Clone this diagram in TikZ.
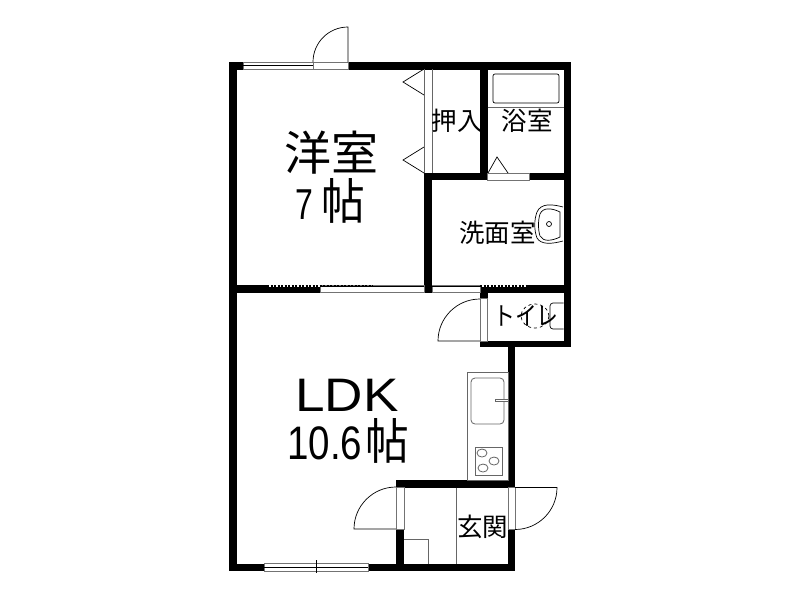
\documentclass[tikz,border=0pt]{standalone}
\usepackage{fontspec}
\setmainfont{Liberation Sans}
\newfontfamily\cjk{Noto Sans CJK JP}
\tikzset{
  wall/.style={fill=black},
  opening/.style={fill=white, draw=black!55, line width=.7pt},
  thinline/.style={draw=black, line width=.7pt},
  fixture/.style={draw=black!60, line width=.8pt},
  bigroom/.style={font=\fontsize{47}{50}\selectfont\cjk, inner sep=0pt},
  roomname/.style={font=\fontsize{25.5}{26}\selectfont\cjk, inner sep=0pt},
}
\newcommand{\jo}{\scalebox{.93}[1.04]{帖}}
\begin{document}
\begin{tikzpicture}[x=1pt, y=-1pt]
  \useasboundingbox (0,0) rectangle (800,600);
  \fill[white] (0,0) rectangle (800,600);
  \foreach \xa/\ya/\xb/\yb in {
      229/62/571/69.5,229/62/236.5/571,229/563.5/515/571,
      563.5/62/571/347,480/62/487.5/180,424/173/571/180,
      424/173/432/293,229/285/571/293,480/285/487.5/347,
      480/341/571/347,508/341/515/571,396/480/515/487.5,
      396/480/404/571} {
    \fill[wall] (\xa,\ya) rectangle (\xb,\yb); }
  \foreach \xa/\ya/\xb/\yb in {
      243/62/313/69.5,313/62/348/69.5,487.5/173.5/529/180,
      320/285.5/424/292.5,432/285.5/480/292.5,480/298/487.5/341,
      396/487.5/404/529,508/487.5/515/529,264/563.5/368/571} {
    \filldraw[opening] (\xa,\ya) rectangle (\xb,\yb); }
  \draw[thinline] (243,65.7) -- (313,65.7);
  \draw[thinline] (264,567.2) -- (368,567.2);
  \draw[thinline] (316.5,560) -- (316.5,573);
  \draw[thinline] (320,286) -- (424,286);
  \draw[thinline] (432,286) -- (480,286);
  \draw[white, line width=1.5pt] (267,286) -- (320,286);
  \draw[white, line width=1.5pt] (480,286) -- (528,286);
  \draw[black, line width=1.5pt, dash pattern=on 2pt off 1.5pt] (267,286) -- (373,286);
  \draw[black, line width=1.5pt, dash pattern=on 2pt off 1.5pt] (480,286) -- (528,286);
  \draw[thinline] (348,62) -- (348,27) arc[start angle=90, end angle=180, radius=35pt];
  \draw[thinline] (480,341) -- (438,341) arc[start angle=180, end angle=90, radius=42pt];
  \draw[thinline] (396,529) -- (354,529) arc[start angle=180, end angle=90, radius=42pt];
  \draw[thinline] (515,487.5) -- (557,487.5) arc[start angle=0, end angle=-90, radius=42pt];
  \draw[thinline] (424,69) -- (403,82) -- (424,95);
  \draw[thinline] (424,147) -- (403,160) -- (424,173);
  \draw[fixture] (424,69) -- (424,173);
  \draw[fixture] (432,69) -- (432,173);
  \draw[thinline] (488,173) -- (497,157) -- (508,173);
  \draw[thinline, rounded corners=2pt] (493,74) rectangle (559,103);
  \draw[fixture] (487.5,107.5) -- (563.5,107.5);
  \draw[fixture] (467,372) rectangle (508,480);
  \draw[fixture, rounded corners=4pt] (471,378) rectangle (504,424);
  \filldraw[fixture, fill=white] (495,399) rectangle (508,401.5);
  \draw[fixture] (475,447) rectangle (502,475);
  \foreach \x/\y in {482/453,494/461,483/468} {
    \draw[fixture] (\x,\y) ellipse (5pt and 4pt); }
  \draw[thinline] (563,207) .. controls (552,204) and (541,203) .. (537,212)
    .. controls (534,220) and (534,230) .. (537,238)
    .. controls (541,245) and (552,244) .. (563,241);
  \draw[thinline] (560,212) .. controls (552,208) and (543,207) .. (540,214)
    .. controls (538,220) and (538,230) .. (540,236)
    .. controls (543,242) and (552,241) .. (560,237) -- cycle;
  \draw[thinline] (549,224) circle (2.5pt);
  \draw[thinline, dashed] (535,316) ellipse (14pt and 12pt);
  \draw[thinline, rounded corners=3pt] (563.5,303) -- (550,303) -- (550,329) -- (563.5,329);
  \draw[fixture] (456,487.5) -- (456,563.5);
  \draw[fixture] (404,539) -- (428,539) -- (428,563.5);
  \node[bigroom] (yoshitsu) at (331,153) {洋室};
  \node[bigroom] (yoshitsusize) at (330.5,201) {\scalebox{.68}[.92]{\rmfamily 7}\kern8pt\jo};
  \node[bigroom] (ldk) at (347,395) {\scalebox{1.13}[1]{\rmfamily LDK}};
  \node[bigroom] (ldksize) at (348,441) {\scalebox{.82}[1]{\rmfamily 10.6}\kern3pt\jo};
  \node[roomname] (oshiire) at (457,121) {押入};
  \node[roomname] (yokushitsu) at (527,121) {浴室};
  \node[roomname] (senmen) at (497.5,233) {洗面室};
  \node[roomname] (toire) at (526,316) {\scalebox{.86}[1]{トイレ}};
  \node[roomname] (genkan) at (482.5,527) {玄関};
\end{tikzpicture}
\end{document}
